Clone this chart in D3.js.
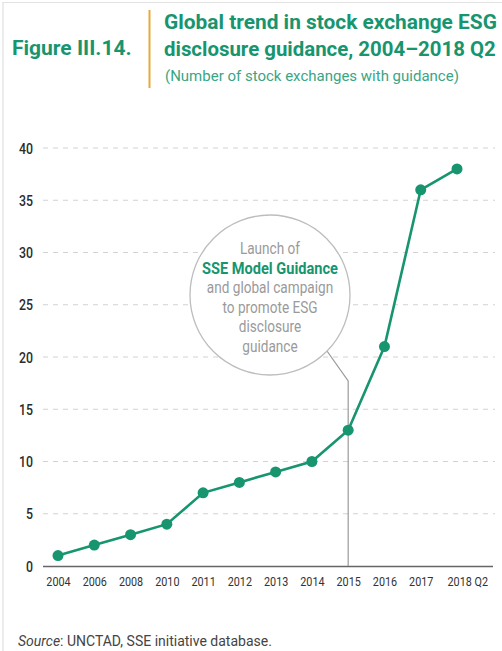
<!DOCTYPE html>
<html><head><meta charset="utf-8">
<script src="https://cdn.jsdelivr.net/npm/d3@7"></script>
<style>
html,body{margin:0;padding:0;background:#fff;}
svg{display:block;font-family:"Roboto","Liberation Sans",sans-serif;}
</style></head>
<body>
<svg id="c" width="502" height="651"></svg>
<script>
const categories = ["2004","2006","2008","2010","2011","2012","2013","2014","2015","2016","2017","2018 Q2"];
const values = [1,2,3,4,7,8,9,10,13,21,36,38];
const yTicks = [0,5,10,15,20,25,30,35,40];
const titleLines = ["Global trend in stock exchange ESG","disclosure guidance, 2004\u20132018 Q2"];
const subtitle = "(Number of stock exchanges with guidance)";
const annotationLines = ["Launch of","SSE Model Guidance","and global campaign","to promote ESG","disclosure","guidance"];

const green = "#17956f";
const svg = d3.select("#c");

// frame
svg.append("line").attr("x1",3).attr("x2",3).attr("y1",2).attr("y2",651).attr("stroke","#d9d9d9").attr("stroke-width",1);
svg.append("line").attr("x1",3).attr("x2",502).attr("y1",2.5).attr("y2",2.5).attr("stroke","#e2e2e2").attr("stroke-width",1);

function fitW(sel, w){
  const x0 = +sel.attr("x");
  const len = sel.node().getComputedTextLength();
  const f = Math.min(1, w/len);
  sel.attr("transform", `translate(${x0},0) scale(${f},1) translate(${-x0},0)`);
}
function squeeze(sel, f){
  sel.each(function(){
    const t = d3.select(this);
    const x0 = +(t.attr("x")||0);
    t.attr("transform", `translate(${x0},0) scale(${f},1) translate(${-x0},0)`);
  });
}

// header
svg.append("text").attr("x",12).attr("y",55).attr("fill",green).attr("font-weight","bold").attr("font-size",21)
  .text("Figure III.14.").call(fitW,124);
svg.append("line").attr("x1",149.5).attr("x2",149.5).attr("y1",10).attr("y2",88).attr("stroke","#e8a93a").attr("stroke-width",2);
svg.append("text").attr("x",164).attr("y",29).attr("fill",green).attr("font-weight","bold").attr("font-size",21).text(titleLines[0]).call(fitW,333);
svg.append("text").attr("x",164).attr("y",56).attr("fill",green).attr("font-weight","bold").attr("font-size",21).text(titleLines[1]).call(fitW,332);
svg.append("text").attr("x",165).attr("y",81).attr("fill","#3aa585").attr("font-size",15).text(subtitle).call(fitW,296);

const x = d3.scalePoint().domain(categories).range([58,457]);
const y = d3.scaleLinear().domain([0,40]).range([566,148]);

// gridlines
svg.append("g").selectAll("line").data(yTicks.filter(d=>d>0)).join("line")
  .attr("x1",43).attr("x2",495).attr("y1",d=>y(d)).attr("y2",d=>y(d))
  .attr("stroke","#d2d2d2").attr("stroke-width",1).attr("stroke-dasharray","5,5");

// y axis labels
const yAxis = d3.axisLeft(y).tickValues(yTicks).tickSize(0).tickPadding(0);
const gy = svg.append("g").attr("transform","translate(33,0)").call(yAxis);
gy.select(".domain").remove();
gy.selectAll("text").attr("font-size",14.5).attr("fill","#2b2b2b").attr("font-weight",500).attr("font-family","Roboto,sans-serif").attr("dy","0.35em").attr("x",0).call(squeeze,0.85);

// x axis
const xAxis = d3.axisBottom(x).tickSize(0).tickPadding(0);
const gx = svg.append("g").attr("transform","translate(0,566)").call(xAxis);
gx.select(".domain").remove();
gx.selectAll("text").attr("font-size",13.5).attr("fill","#333").attr("y",20).attr("dy",0).attr("x",0)
  .attr("font-family","Roboto,sans-serif").call(squeeze,0.8);
gx.selectAll(".tick").filter(d=>d==="2018 Q2").select("text").attr("text-anchor","start").attr("dx",-12.5);
svg.append("line").attr("x1",43).attr("x2",493).attr("y1",566.5).attr("y2",566.5).attr("stroke","#666").attr("stroke-width",1.5);

// annotation
const cx = 270, cy = 295, r = 80;
svg.append("path").attr("d", `M327,351 L${x("2015")},381 L${x("2015")},566`).attr("fill","none").attr("stroke","#999").attr("stroke-width",1.2);
svg.append("circle").attr("cx",cx).attr("cy",cy).attr("r",r).attr("fill","#fff").attr("stroke","#bdbdbd").attr("stroke-width",1.3);
const ann = svg.append("g").attr("font-size",16.2).attr("text-anchor","middle");
annotationLines.forEach((t,i)=>{
  ann.append("text").attr("x",cx).attr("y",254+i*19.6)
    .attr("fill", i===1? green : "#9a9a9a")
    .attr("font-weight", i===1? "bold":"normal").text(t).call(squeeze, i===1 ? 0.9 : 0.84);
});

// line + points
const line = d3.line().x((d,i)=>x(categories[i])).y(d=>y(d));
svg.append("path").datum(values).attr("d",line).attr("fill","none").attr("stroke",green).attr("stroke-width",2.6);
svg.append("g").selectAll("circle").data(values).join("circle")
  .attr("cx",(d,i)=>x(categories[i])).attr("cy",d=>y(d)).attr("r",5.5).attr("fill",green);

// source
const src = svg.append("text").attr("x",18).attr("y",646).attr("font-size",14).attr("fill","#444");
src.append("tspan").attr("font-style","italic").text("Source");
src.append("tspan").text(": UNCTAD, SSE initiative database.");
src.call(fitW,255);
</script>
</body></html>
